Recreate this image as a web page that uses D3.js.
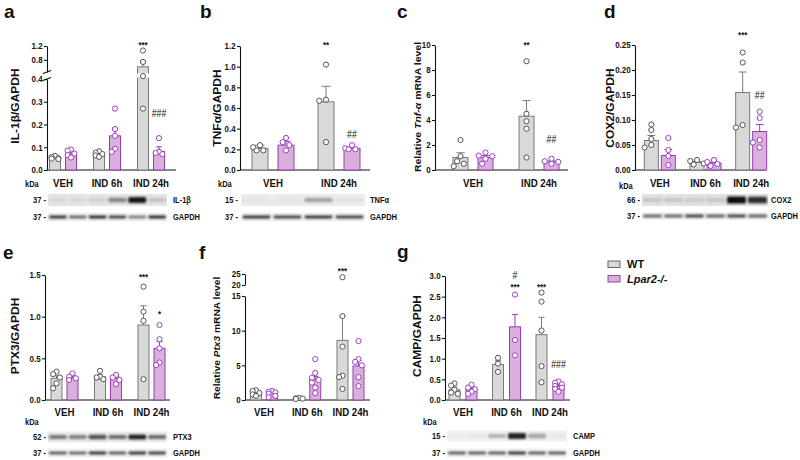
<!DOCTYPE html>
<html><head><meta charset="utf-8">
<script src="https://cdn.jsdelivr.net/npm/d3@7"></script>
<style>
body{margin:0;background:#fff}
svg text{font-family:"Liberation Sans",Arial,sans-serif;font-weight:bold;fill:#111}
</style>
</head><body><svg id="c" width="800" height="460"></svg>
<script>
// ---------------- DATA ----------------
const groups3 = ["VEH", "IND 6h", "IND 24h"];
const groups2 = ["VEH", "IND 24h"];
const seriesNames = ["WT", "Lpar2-/-"];

// panel a : IL-1β/GAPDH
const aTicksLow = [0, 0.1, 0.2, 0.3, 0.4];
const aTicksHigh = [0.8, 1.2];
const aWTMean = [0.052, 0.068, 0.60];
const aWTSem = [0.004, 0.005, 0.17];
const aWTPts = [[0.062, 0.057, 0.052, 0.05, 0.048], [0.082, 0.076, 0.07, 0.064, 0.058], [1.07, 0.74, 0.42, 0.27]];
const aLpMean = [0.07, 0.15, 0.082];
const aLpSem = [0.008, 0.033, 0.02];
const aLpPts = [[0.09, 0.085, 0.072, 0.065, 0.055], [0.27, 0.18, 0.15, 0.093, 0.08], [0.14, 0.08, 0.075, 0.07]];
const aAnn = [{group: "IND 24h", s: 0, text: "***", v: 1.29}, {group: "IND 24h", s: 1, text: "###", v: 0.25}];
const aBlotTarget = [0.06, 0.05, 0.08, 0.45, 0.95, 0.15];
const aBlotGAPDH = [0.85, 0.7, 0.9, 0.8, 0.6, 0.9];

// panel b : TNFα/GAPDH
const bTicks = [0, 0.2, 0.4, 0.6, 0.8, 1.0, 1.2];
const bWTMean = [0.21, 0.66];
const bWTSem = [0.03, 0.15];
const bWTPts = [[0.24, 0.22, 0.19, 0.19], [1.02, 0.68, 0.67, 0.27]];
const bLpMean = [0.24, 0.21];
const bLpSem = [0.035, 0.01];
const bLpPts = [[0.31, 0.27, 0.24, 0.19], [0.24, 0.21, 0.2, 0.2]];
const bAnn = [{group: "IND 24h", s: 0, text: "**", v: 1.23}, {group: "IND 24h", s: 1, text: "##", v: 0.34}];
const bBlotTarget = [0.03, 0.03, 0.3, 0.05];
const bBlotGAPDH = [0.85, 0.8, 0.85, 0.8];

// panel c : Relative Tnf-α mRNA level
const cTicks = [0, 2, 4, 6, 8, 10];
const cWTMean = [1.0, 4.3];
const cWTSem = [0.38, 1.25];
const cWTPts = [[2.4, 1.1, 0.7, 0.5, 0.3], [8.7, 4.5, 3.9, 3.3, 1.0]];
const cLpMean = [1.0, 0.65];
const cLpSem = [0.15, 0.07];
const cLpPts = [[1.4, 1.15, 1.1, 0.9, 0.5], [0.9, 0.7, 0.65, 0.5]];
const cAnn = [{group: "IND 24h", s: 0, text: "**", v: 10.16}, {group: "IND 24h", s: 1, text: "##", v: 2.48}];

// panel d : COX2/GAPDH
const dTicks = [0, 0.05, 0.10, 0.15, 0.20, 0.25];
const dWTMean = [0.059, 0.015, 0.155];
const dWTSem = [0.01, 0.002, 0.041];
const dWTPts = [[0.091, 0.08, 0.062, 0.05, 0.045], [0.02, 0.018, 0.013, 0.011], [0.235, 0.215, 0.09, 0.085]];
const dLpMean = [0.029, 0.014, 0.077];
const dLpSem = [0.012, 0.002, 0.014];
const dLpPts = [[0.064, 0.04, 0.028, 0.01], [0.02, 0.016, 0.012, 0.008], [0.117, 0.104, 0.06, 0.055, 0.045]];
const dAnn = [{group: "IND 24h", s: 0, text: "***", v: 0.274}, {group: "IND 24h", s: 1, text: "##", v: 0.15}];
const dBlotTarget = [0.12, 0.12, 0.1, 0.12, 1.0, 0.85];
const dBlotGAPDH = [0.7, 0.7, 0.8, 0.75, 0.8, 0.75];

// panel e : PTX3/GAPDH
const eTicks = [0, 0.5, 1.0, 1.5];
const eWTMean = [0.26, 0.28, 0.9];
const eWTSem = [0.03, 0.02, 0.23];
const eWTPts = [[0.34, 0.31, 0.27, 0.2, 0.14], [0.35, 0.28, 0.27, 0.25], [1.36, 1.06, 0.95, 0.25]];
const eLpMean = [0.27, 0.26, 0.62];
const eLpSem = [0.02, 0.02, 0.08];
const eLpPts = [[0.32, 0.28, 0.26, 0.24], [0.3, 0.27, 0.24, 0.19], [0.9, 0.73, 0.62, 0.45, 0.42]];
const eAnn = [{group: "IND 24h", s: 0, text: "***", v: 1.5}, {group: "IND 24h", s: 1, text: "*", v: 1.06}];
const eBlotTarget = [0.55, 0.5, 0.7, 0.6, 0.9, 0.6];
const eBlotGAPDH = [0.75, 0.7, 0.85, 0.75, 0.85, 0.8];

// panel f : Relative Ptx3 mRNA level
const fTicksLow = [0, 5, 10, 15];
const fTicksHigh = [20, 25];
const fWTMean = [1.1, 0.2, 8.6];
const fWTSem = [0.15, 0.03, 3.5];
const fWTPts = [[1.4, 1.3, 1.0, 0.8, 0.6], [0.3, 0.25, 0.2, 0.15], [23.5, 12.1, 7.7, 3.5, 3.3, 1.6]];
const fLpMean = [1.0, 2.9, 4.9];
const fLpSem = [0.12, 0.5, 0.8];
const fLpPts = [[1.3, 1.2, 1.1, 0.9, 0.6, 0.4], [5.9, 3.9, 3.2, 2.9, 2.5, 1.8, 1.0], [8.5, 5.9, 5.5, 5.0, 3.3, 2.0]];
const fAnn = [{group: "IND 24h", s: 0, text: "***", v: 27.3}];

// panel g : CAMP/GAPDH
const gTicks = [0, 0.5, 1.0, 1.5, 2.0, 2.5, 3.0];
const gWTMean = [0.25, 0.86, 1.58];
const gWTSem = [0.06, 0.09, 0.42];
const gWTPts = [[0.4, 0.35, 0.25, 0.18, 0.15], [1.02, 0.88, 0.68], [2.6, 2.38, 1.68, 0.82, 0.43]];
const gLpMean = [0.26, 1.77, 0.34];
const gLpSem = [0.04, 0.3, 0.04];
const gLpPts = [[0.37, 0.3, 0.26, 0.2, 0.15], [2.55, 1.45, 1.08], [0.45, 0.42, 0.38, 0.34, 0.3, 0.27, 0.2]];
const gAnn = [{group: "IND 6h", s: 1, text: "#", v: 3.02}, {group: "IND 6h", s: 1, text: "***", v: 2.78},
              {group: "IND 24h", s: 0, text: "***", v: 2.78}, {group: "IND 24h", s: 1, text: "###", v: 0.85}];
const gBlotTarget = [0.03, 0.05, 0.25, 0.9, 0.35, 0.04];
const gBlotGAPDH = [0.75, 0.75, 0.75, 0.85, 0.75, 0.75];

// ---------------- STYLE ----------------
const COL = [
  {fill: "#d9d9d9", stroke: "#7a7a7a", pt: "#555"},
  {fill: "#d8b0db", stroke: "#9a3db4", pt: "#9b3fc0"}
];
const FONT = "'Liberation Sans', Arial, sans-serif";
const SQ = 0.88; // horizontal squeeze of the figure's lettering

const svg = d3.select("#c");
const defs = svg.append("defs");
const flt = defs.append("filter").attr("id", "blur").attr("x", "-30%").attr("y", "-150%").attr("width", "160%").attr("height", "400%");
flt.append("feGaussianBlur").attr("stdDeviation", 1.1);

function txt(g, x, y, str, size, opts = {}) {
  const sx = opts.sx == null ? SQ : opts.sx;
  return g.append("text").attr("transform", `translate(${x},${y}) scale(${sx},1)`)
    .attr("text-anchor", opts.anchor || "start").style("font-size", size + "px")
    .style("font-style", opts.italic ? "italic" : "normal")
    .style("font-weight", opts.normal ? "normal" : "bold").text(str);
}

function swarm(vals, yfn, r, maxOff) {
  const order = vals.map((v, i) => ({v, i})).sort((a, b) => b.v - a.v);
  const placed = [];
  const res = new Array(vals.length);
  const step = r * 1.3;
  order.forEach(o => {
    const py = yfn(o.v);
    const cands = [0];
    for (let k = 1; k <= 6; k++) cands.push(-k * step, k * step);
    let best = 0, bestScore = Infinity;
    for (const c of cands) {
      if (Math.abs(c) > maxOff) continue;
      let overlap = 0;
      placed.forEach(p => { const d = Math.hypot(p.x - c, p.y - py); if (d < 2 * r) overlap += 2 * r - d; });
      const score = overlap * 10 + Math.abs(c) * 0.01;
      if (score < bestScore) { bestScore = score; best = c; }
      if (overlap === 0) break;
    }
    placed.push({x: best, y: py});
    res[o.i] = best;
  });
  return res;
}

function styleAxis(ax) {
  ax.select(".domain").attr("stroke", "#111").attr("stroke-width", 1.1);
  ax.selectAll(".tick line").attr("stroke", "#111").attr("stroke-width", 1.1);
  ax.selectAll(".tick text").style("font-family", FONT).style("font-weight", "bold").style("font-size", "9px")
    .attr("fill", "#111").attr("transform", `scale(${SQ},1)`);
}

function drawPanel(p) {
  const g = svg.append("g");
  const x = d3.scaleBand().domain(p.groups).range(p.band);
  const xs = d3.scalePoint().domain(seriesNames).range([-p.off, p.off]);
  let y, lowS, highS = null;
  const ya = p.yaxis;
  if (ya.broken) {
    lowS = d3.scaleLinear().domain(ya.low.domain).range(ya.low.range);
    highS = d3.scaleLinear().domain(ya.high.domain).range(ya.high.range);
    const lmax = ya.low.domain[1], hmin = ya.high.domain[0];
    y = v => v <= lmax ? lowS(v) : v >= hmin ? highS(v)
      : lowS(lmax) + (v - lmax) / (hmin - lmax) * (highS(hmin) - lowS(lmax));
  } else {
    lowS = d3.scaleLinear().domain(ya.domain).range(ya.range);
    y = lowS;
  }
  const fmt = d3.format(ya.fmt);
  const axL = g.append("g").attr("transform", `translate(${p.axisX},0)`)
    .call(d3.axisLeft(lowS).tickValues(ya.broken ? ya.low.ticks : ya.ticks).tickSize(3).tickSizeOuter(0).tickPadding(2).tickFormat(fmt));
  styleAxis(axL);
  if (highS) {
    const axH = g.append("g").attr("transform", `translate(${p.axisX},0)`)
      .call(d3.axisLeft(highS).tickValues(ya.high.ticks).tickSize(3).tickSizeOuter(0).tickPadding(2).tickFormat(fmt));
    styleAxis(axH);
    if (ya.breakMarks) {
      const yb1 = highS.range()[0], yb2 = lowS.range()[1];
      [yb1, yb2].forEach(yy => g.append("line").attr("x1", p.axisX - 4).attr("x2", p.axisX + 4)
        .attr("y1", yy + 1.5).attr("y2", yy - 1.5).attr("stroke", "#111").attr("stroke-width", 1.1));
    }
  }
  g.append("line").attr("x1", p.axisX).attr("x2", p.xEnd).attr("y1", y(0)).attr("y2", y(0))
    .attr("stroke", "#111").attr("stroke-width", 1.2);
  p.groups.forEach(grp => txt(g, x(grp) + x.bandwidth() / 2, p.catY, grp, 11, {anchor: "middle"}));
  [p.wt, p.lp].forEach((d, s) => {
    const col = COL[s];
    p.groups.forEach((grp, i) => {
      const cx = x(grp) + x.bandwidth() / 2 + xs(seriesNames[s]);
      const m = d.mean[i];
      g.append("rect").attr("x", cx - p.bw / 2).attr("y", y(m)).attr("width", p.bw).attr("height", y(0) - y(m))
        .attr("fill", col.fill).attr("stroke", col.stroke).attr("stroke-width", 1);
      if (highS && m > ya.high.domain[0]) {
        const t = highS.range()[0] + 1.5, b = lowS.range()[1] - 1.5;
        g.append("rect").attr("x", cx - p.bw / 2 - 1).attr("y", t).attr("width", p.bw + 2).attr("height", b - t).attr("fill", "#fff");
      }
      const top = y(m + d.sem[i]);
      g.append("line").attr("x1", cx).attr("x2", cx).attr("y1", y(m)).attr("y2", top).attr("stroke", col.stroke).attr("stroke-width", 1);
      g.append("line").attr("x1", cx - p.bw * 0.28).attr("x2", cx + p.bw * 0.28).attr("y1", top).attr("y2", top).attr("stroke", col.stroke).attr("stroke-width", 1);
      const offs = swarm(d.pts[i], y, 2.6, p.bw / 2);
      d.pts[i].forEach((v, k) => {
        g.append("circle").attr("cx", cx + offs[k]).attr("cy", y(v)).attr("r", 2.6)
          .attr("fill", "#fff").attr("stroke", col.pt).attr("stroke-width", 1);
      });
    });
  });
  p.ann.forEach(a => {
    const cx = x(a.group) + x.bandwidth() / 2 + xs(seriesNames[a.s]);
    const isStar = a.text.indexOf("*") >= 0;
    const fs = isStar ? 9 : 10;
    txt(g, cx, y(a.v) + (isStar ? fs * 0.58 : fs * 0.36), a.text, fs, {anchor: "middle", normal: !isStar})
      .attr("fill", "#222");
  });
  const yl = g.append("text")
    .attr("transform", `translate(${p.ylabel.x},${p.ylabel.y}) rotate(-90) scale(1,${SQ})`)
    .attr("text-anchor", "middle").attr("dominant-baseline", "central").style("font-size", p.ylabel.size + "px");
  p.ylabel.parts.forEach(pt => yl.append("tspan").style("font-style", pt[1] ? "italic" : "normal").text(pt[0]));
  txt(svg, p.letter[0], p.letter[1], p.id, 19, {sx: 1});
  if (p.blot) drawBlot(p.blot);
}

function drawBlot(b) {
  const g = svg.append("g");
  txt(g, b.kda[0], b.kda[1], "kDa", 8.5);
  const n = b.rows[0].data.length;
  const lane = d3.scaleBand().domain(d3.range(n)).range(b.x).paddingInner(0.1).paddingOuter(0.05);
  b.rows.forEach(r => {
    g.append("rect").attr("x", b.x[0]).attr("y", r.y - r.box / 2).attr("width", b.x[1] - b.x[0]).attr("height", r.box)
      .attr("fill", r.bg);
    const bg = g.append("g").attr("filter", "url(#blur)");
    r.data.forEach((v, i) => {
      const w = lane.bandwidth();
      const h = r.h * (0.6 + 0.4 * v);
      bg.append("rect").attr("x", lane(i)).attr("y", r.y - h / 2).attr("width", w).attr("height", h)
        .attr("rx", 1.5).attr("fill", "#111").attr("opacity", v);
    });
    txt(g, b.mwX, r.y + 3, r.mw + " -", 8.5, {anchor: "end"});
    txt(g, b.labelX, r.y + 3, r.label, 8.5);
  });
}

const panels = [
  {id: "a", letter: [4, 18], groups: groups3,
   wt: {mean: aWTMean, sem: aWTSem, pts: aWTPts}, lp: {mean: aLpMean, sem: aLpSem, pts: aLpPts},
   axisX: 47, xEnd: 176, band: [41, 173], off: 8, bw: 11, catY: 187,
   yaxis: {broken: true, breakMarks: true, fmt: ".1f",
     low: {domain: [0, 0.4], range: [170, 79], ticks: aTicksLow},
     high: {domain: [0.45, 1.2], range: [72, 46], ticks: aTicksHigh}},
   ylabel: {x: 15, y: 106, size: 12, parts: [["IL-1β/GAPDH", false]]}, ann: aAnn,
   blot: {x: [48, 167], kda: [25, 187], mwX: 46, labelX: 173,
     rows: [{y: 200, box: 12, h: 6, bg: "#e4e4e4", data: aBlotTarget, mw: "37", label: "IL-1β"},
            {y: 217, box: 9, h: 3, bg: "#f1f1f1", data: aBlotGAPDH, mw: "37", label: "GAPDH"}]}},
  {id: "b", letter: [200, 18], groups: groups2,
   wt: {mean: bWTMean, sem: bWTSem, pts: bWTPts}, lp: {mean: bLpMean, sem: bLpSem, pts: bLpPts},
   axisX: 240, xEnd: 370, band: [240, 372], off: 13, bw: 16, catY: 187,
   yaxis: {domain: [0, 1.2], range: [170, 46], ticks: bTicks, fmt: ".1f"},
   ylabel: {x: 217, y: 108, size: 12, parts: [["TNFα/GAPDH", false]]}, ann: bAnn,
   blot: {x: [241, 365], kda: [218, 187], mwX: 238, labelX: 370,
     rows: [{y: 200, box: 12, h: 6, bg: "#ececec", data: bBlotTarget, mw: "15", label: "TNFα"},
            {y: 217, box: 9, h: 3, bg: "#f1f1f1", data: bBlotGAPDH, mw: "37", label: "GAPDH"}]}},
  {id: "c", letter: [397, 18], groups: groups2,
   wt: {mean: cWTMean, sem: cWTSem, pts: cWTPts}, lp: {mean: cLpMean, sem: cLpSem, pts: cLpPts},
   axisX: 435, xEnd: 568, band: [440, 572], off: 12.5, bw: 15, catY: 187,
   yaxis: {domain: [0, 10], range: [170, 45], ticks: cTicks, fmt: "d"},
   ylabel: {x: 417, y: 107, size: 10.5, parts: [["Relative ", false], ["Tnf-α", true], [" mRNA level", false]]}, ann: cAnn},
  {id: "d", letter: [604, 18], groups: groups3,
   wt: {mean: dWTMean, sem: dWTSem, pts: dWTPts}, lp: {mean: dLpMean, sem: dLpSem, pts: dLpPts},
   axisX: 635, xEnd: 766, band: [637, 774], off: 8.5, bw: 14, catY: 187,
   yaxis: {domain: [0, 0.25], range: [170, 45], ticks: dTicks, fmt: ".2f"},
   ylabel: {x: 610, y: 108, size: 12, parts: [["COX2/GAPDH", false]]}, ann: dAnn,
   blot: {x: [642, 768], kda: [619, 189], mwX: 640, labelX: 771,
     rows: [{y: 200, box: 12, h: 7, bg: "#e2e2e2", data: dBlotTarget, mw: "66", label: "COX2"},
            {y: 216, box: 8, h: 3, bg: "#f1f1f1", data: dBlotGAPDH, mw: "37", label: "GAPDH"}]}},
  {id: "e", letter: [3, 259], groups: groups3,
   wt: {mean: eWTMean, sem: eWTSem, pts: eWTPts}, lp: {mean: eLpMean, sem: eLpSem, pts: eLpPts},
   axisX: 45, xEnd: 170, band: [42.75, 173.25], off: 8, bw: 11, catY: 416,
   yaxis: {domain: [0, 1.5], range: [400, 275], ticks: eTicks, fmt: ".1f"},
   ylabel: {x: 15, y: 336, size: 12, parts: [["PTX3/GAPDH", false]]}, ann: eAnn,
   blot: {x: [48, 167], kda: [25, 425], mwX: 46, labelX: 173,
     rows: [{y: 437, box: 11, h: 5, bg: "#ececec", data: eBlotTarget, mw: "52", label: "PTX3"},
            {y: 453, box: 9, h: 3, bg: "#f1f1f1", data: eBlotGAPDH, mw: "37", label: "GAPDH"}]}},
  {id: "f", letter: [199, 259], groups: groups3,
   wt: {mean: fWTMean, sem: fWTSem, pts: fWTPts}, lp: {mean: fLpMean, sem: fLpSem, pts: fLpPts},
   axisX: 245, xEnd: 370, band: [242.4, 372.1], off: 8, bw: 11, catY: 416,
   yaxis: {broken: true, breakMarks: false, fmt: "d",
     low: {domain: [0, 15], range: [400, 296], ticks: fTicksLow},
     high: {domain: [20, 25], range: [285, 274], ticks: fTicksHigh}},
   ylabel: {x: 216, y: 338, size: 10.2, parts: [["Relative ", false], ["Ptx3", true], [" mRNA level", false]]}, ann: fAnn},
  {id: "g", letter: [397, 258], groups: groups3,
   wt: {mean: gWTMean, sem: gWTSem, pts: gWTPts}, lp: {mean: gLpMean, sem: gLpSem, pts: gLpPts},
   axisX: 445, xEnd: 570, band: [441.25, 571.75], off: 8.5, bw: 11, catY: 416,
   yaxis: {domain: [0, 3], range: [400, 276], ticks: gTicks, fmt: ".1f"},
   ylabel: {x: 417, y: 336, size: 12, parts: [["CAMP/GAPDH", false]]}, ann: gAnn,
   blot: {x: [447, 567], kda: [423, 425], mwX: 445, labelX: 573,
     rows: [{y: 436, box: 11, h: 6, bg: "#f0f0f0", data: gBlotTarget, mw: "15", label: "CAMP"},
            {y: 453, box: 9, h: 3, bg: "#f1f1f1", data: gBlotGAPDH, mw: "37", label: "GAPDH"}]}}
];
panels.forEach(drawPanel);

// legend
const leg = svg.append("g");
seriesNames.forEach((s, i) => {
  leg.append("rect").attr("x", 608).attr("y", 261 + i * 14.5).attr("width", 12).attr("height", 6.5)
    .attr("fill", COL[i].fill).attr("stroke", i ? "#8a4f92" : "#666").attr("stroke-width", 1);
  txt(leg, 627, 268 + i * 14.5, s, 11, {sx: 1, italic: i === 1});
});
</script>
</body></html>
